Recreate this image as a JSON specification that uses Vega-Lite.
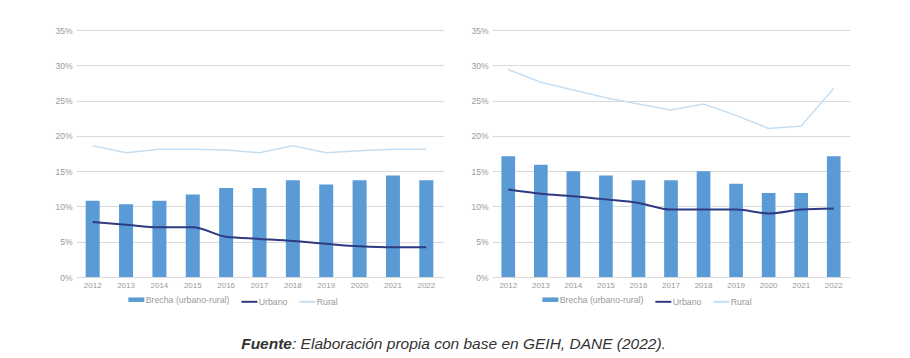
{
  "$schema": "https://vega.github.io/schema/vega-lite/v6.json",
  "background": "white",
  "padding": {"left": 54, "top": 26, "right": 10, "bottom": 5},
  "config": {
    "view": {"stroke": null},
    "font": "Liberation Sans",
    "axis": {"labelFont": "Liberation Sans", "labelFontSize": 8, "labelColor": "#999999", "domain": false, "ticks": false, "title": null},
    "axisY": {"labelFontSize": 8.5},
    "legend": {"labelFont": "Liberation Sans", "labelFontSize": 8.75, "labelColor": "#999999"}
  },
  "datasets": {
    "d": [
      {"panel": "A", "anio": "2012", "serie": "Brecha (urbano-rural)", "valor": 10.8},
      {"panel": "A", "anio": "2013", "serie": "Brecha (urbano-rural)", "valor": 10.3},
      {"panel": "A", "anio": "2014", "serie": "Brecha (urbano-rural)", "valor": 10.8},
      {"panel": "A", "anio": "2015", "serie": "Brecha (urbano-rural)", "valor": 11.7},
      {"panel": "A", "anio": "2016", "serie": "Brecha (urbano-rural)", "valor": 12.6},
      {"panel": "A", "anio": "2017", "serie": "Brecha (urbano-rural)", "valor": 12.6},
      {"panel": "A", "anio": "2018", "serie": "Brecha (urbano-rural)", "valor": 13.7},
      {"panel": "A", "anio": "2019", "serie": "Brecha (urbano-rural)", "valor": 13.1},
      {"panel": "A", "anio": "2020", "serie": "Brecha (urbano-rural)", "valor": 13.7},
      {"panel": "A", "anio": "2021", "serie": "Brecha (urbano-rural)", "valor": 14.4},
      {"panel": "A", "anio": "2022", "serie": "Brecha (urbano-rural)", "valor": 13.7},
      {"panel": "A", "anio": "2012", "serie": "Urbano", "valor": 7.8},
      {"panel": "A", "anio": "2013", "serie": "Urbano", "valor": 7.4},
      {"panel": "A", "anio": "2014", "serie": "Urbano", "valor": 7.05},
      {"panel": "A", "anio": "2015", "serie": "Urbano", "valor": 7.05},
      {"panel": "A", "anio": "2016", "serie": "Urbano", "valor": 5.7},
      {"panel": "A", "anio": "2017", "serie": "Urbano", "valor": 5.4},
      {"panel": "A", "anio": "2018", "serie": "Urbano", "valor": 5.1},
      {"panel": "A", "anio": "2019", "serie": "Urbano", "valor": 4.7},
      {"panel": "A", "anio": "2020", "serie": "Urbano", "valor": 4.35},
      {"panel": "A", "anio": "2021", "serie": "Urbano", "valor": 4.2},
      {"panel": "A", "anio": "2022", "serie": "Urbano", "valor": 4.2},
      {"panel": "A", "anio": "2012", "serie": "Rural", "valor": 18.6},
      {"panel": "A", "anio": "2013", "serie": "Rural", "valor": 17.6},
      {"panel": "A", "anio": "2014", "serie": "Rural", "valor": 18.1},
      {"panel": "A", "anio": "2015", "serie": "Rural", "valor": 18.1},
      {"panel": "A", "anio": "2016", "serie": "Rural", "valor": 18.0},
      {"panel": "A", "anio": "2017", "serie": "Rural", "valor": 17.6},
      {"panel": "A", "anio": "2018", "serie": "Rural", "valor": 18.6},
      {"panel": "A", "anio": "2019", "serie": "Rural", "valor": 17.6},
      {"panel": "A", "anio": "2020", "serie": "Rural", "valor": 17.9},
      {"panel": "A", "anio": "2021", "serie": "Rural", "valor": 18.1},
      {"panel": "A", "anio": "2022", "serie": "Rural", "valor": 18.1},
      {"panel": "B", "anio": "2012", "serie": "Brecha (urbano-rural)", "valor": 17.1},
      {"panel": "B", "anio": "2013", "serie": "Brecha (urbano-rural)", "valor": 15.9},
      {"panel": "B", "anio": "2014", "serie": "Brecha (urbano-rural)", "valor": 15.0},
      {"panel": "B", "anio": "2015", "serie": "Brecha (urbano-rural)", "valor": 14.4},
      {"panel": "B", "anio": "2016", "serie": "Brecha (urbano-rural)", "valor": 13.7},
      {"panel": "B", "anio": "2017", "serie": "Brecha (urbano-rural)", "valor": 13.7},
      {"panel": "B", "anio": "2018", "serie": "Brecha (urbano-rural)", "valor": 15.0},
      {"panel": "B", "anio": "2019", "serie": "Brecha (urbano-rural)", "valor": 13.2},
      {"panel": "B", "anio": "2020", "serie": "Brecha (urbano-rural)", "valor": 11.9},
      {"panel": "B", "anio": "2021", "serie": "Brecha (urbano-rural)", "valor": 11.9},
      {"panel": "B", "anio": "2022", "serie": "Brecha (urbano-rural)", "valor": 17.1},
      {"panel": "B", "anio": "2012", "serie": "Urbano", "valor": 12.4},
      {"panel": "B", "anio": "2013", "serie": "Urbano", "valor": 11.8},
      {"panel": "B", "anio": "2014", "serie": "Urbano", "valor": 11.45},
      {"panel": "B", "anio": "2015", "serie": "Urbano", "valor": 11.0},
      {"panel": "B", "anio": "2016", "serie": "Urbano", "valor": 10.5},
      {"panel": "B", "anio": "2017", "serie": "Urbano", "valor": 9.55},
      {"panel": "B", "anio": "2018", "serie": "Urbano", "valor": 9.55},
      {"panel": "B", "anio": "2019", "serie": "Urbano", "valor": 9.55},
      {"panel": "B", "anio": "2020", "serie": "Urbano", "valor": 9.0},
      {"panel": "B", "anio": "2021", "serie": "Urbano", "valor": 9.55},
      {"panel": "B", "anio": "2022", "serie": "Urbano", "valor": 9.7},
      {"panel": "B", "anio": "2012", "serie": "Rural", "valor": 29.4},
      {"panel": "B", "anio": "2013", "serie": "Rural", "valor": 27.6},
      {"panel": "B", "anio": "2014", "serie": "Rural", "valor": 26.5},
      {"panel": "B", "anio": "2015", "serie": "Rural", "valor": 25.4},
      {"panel": "B", "anio": "2016", "serie": "Rural", "valor": 24.5},
      {"panel": "B", "anio": "2017", "serie": "Rural", "valor": 23.65},
      {"panel": "B", "anio": "2018", "serie": "Rural", "valor": 24.5},
      {"panel": "B", "anio": "2019", "serie": "Rural", "valor": 22.9},
      {"panel": "B", "anio": "2020", "serie": "Rural", "valor": 21.05},
      {"panel": "B", "anio": "2021", "serie": "Rural", "valor": 21.4},
      {"panel": "B", "anio": "2022", "serie": "Rural", "valor": 26.7}
    ],
    "caption": [
      {"parte": "a", "texto": "Fuente"},
      {"parte": "b", "texto": ": Elaboración propia con base en GEIH, DANE (2022)."}
    ]
  },
  "vconcat": [
    {
      "hconcat": [
        {
          "width": 367,
          "height": 247,
          "data": {"name": "d"},
          "transform": [{"filter": "datum.panel === 'A'"}],
          "encoding": {
            "x": {"field": "anio", "type": "ordinal", "scale": {"paddingInner": 0.58, "paddingOuter": 0.29}, "axis": {"labelAngle": 0, "labelPadding": 4, "grid": false}},
            "y": {"field": "valor", "type": "quantitative", "scale": {"domain": [0, 35], "nice": false}, "axis": {"values": [0, 5, 10, 15, 20, 25, 30, 35], "labelExpr": "datum.value + '%'", "labelPadding": 4, "gridColor": "#d9d9d9", "gridWidth": 1}},
            "color": {"field": "serie", "type": "nominal", "scale": {"domain": ["Brecha (urbano-rural)", "Urbano", "Rural"], "range": ["#5b9bd5", "#2e3a82", "#c6def2"]},
              "legend": {"orient": "none", "legendX": 56, "legendY": 265, "direction": "horizontal", "title": null, "symbolType": "stroke", "symbolSize": 256, "columnPadding": 7, "labelOffset": 5,
                "encode": {"symbols": {"update": {"stroke": {"signal": "datum.value === 'Brecha (urbano-rural)' ? '#5b9bd5' : datum.value === 'Urbano' ? '#2e3a82' : '#c6def2'"}, "strokeWidth": {"signal": "datum.value === 'Brecha (urbano-rural)' ? 4.5 : 2"}}}}}}
          },
          "layer": [
            {"transform": [{"filter": "datum.serie === 'Brecha (urbano-rural)'"}], "mark": {"type": "bar"}},
            {"transform": [{"filter": "datum.serie === 'Urbano'"}], "mark": {"type": "line", "strokeWidth": 2, "interpolate": "monotone"}},
            {"transform": [{"filter": "datum.serie === 'Rural'"}], "mark": {"type": "line", "strokeWidth": 1.5}}
          ]
        },
        {
          "width": 358,
          "height": 247,
          "data": {"name": "d"},
          "transform": [{"filter": "datum.panel === 'B'"}],
          "encoding": {
            "x": {"field": "anio", "type": "ordinal", "scale": {"paddingInner": 0.58, "paddingOuter": 0.29}, "axis": {"labelAngle": 0, "labelPadding": 4, "grid": false}},
            "y": {"field": "valor", "type": "quantitative", "scale": {"domain": [0, 35], "nice": false}, "axis": {"values": [0, 5, 10, 15, 20, 25, 30, 35], "labelExpr": "datum.value + '%'", "labelPadding": 4, "gridColor": "#d9d9d9", "gridWidth": 1}},
            "color": {"field": "serie", "type": "nominal", "scale": {"domain": ["Brecha (urbano-rural)", "Urbano", "Rural"], "range": ["#5b9bd5", "#2e3a82", "#c6def2"]},
              "legend": {"orient": "none", "legendX": 54, "legendY": 265, "direction": "horizontal", "title": null, "symbolType": "stroke", "symbolSize": 256, "columnPadding": 7, "labelOffset": 5,
                "encode": {"symbols": {"update": {"stroke": {"signal": "datum.value === 'Brecha (urbano-rural)' ? '#5b9bd5' : datum.value === 'Urbano' ? '#2e3a82' : '#c6def2'"}, "strokeWidth": {"signal": "datum.value === 'Brecha (urbano-rural)' ? 4.5 : 2"}}}}}}
          },
          "layer": [
            {"transform": [{"filter": "datum.serie === 'Brecha (urbano-rural)'"}], "mark": {"type": "bar"}},
            {"transform": [{"filter": "datum.serie === 'Urbano'"}], "mark": {"type": "line", "strokeWidth": 2, "interpolate": "monotone"}},
            {"transform": [{"filter": "datum.serie === 'Rural'"}], "mark": {"type": "line", "strokeWidth": 1.5}}
          ]
        }
      ],
      "spacing": 27,
      "resolve": {"legend": {"color": "independent"}, "scale": {"color": "independent"}}
    },
    {
      "width": 800,
      "height": 20,
      "data": {"name": "caption"},
      "encoding": {
        "x": {"datum": 0.27, "type": "quantitative", "scale": {"domain": [0, 1]}, "axis": null},
        "y": {"datum": 0.5, "type": "quantitative", "scale": {"domain": [0, 1]}, "axis": null},
        "text": {"field": "texto"}
      },
      "layer": [
        {"transform": [{"filter": "datum.parte === 'a'"}], "mark": {"type": "text", "align": "right", "baseline": "middle", "fontSize": 15.5, "fontStyle": "italic", "fontWeight": "bold", "color": "#333333", "font": "Liberation Sans"}},
        {"transform": [{"filter": "datum.parte === 'b'"}], "mark": {"type": "text", "align": "left", "baseline": "middle", "fontSize": 15.5, "fontStyle": "italic", "color": "#333333", "font": "Liberation Sans"}}
      ]
    }
  ],
  "spacing": 25
}
